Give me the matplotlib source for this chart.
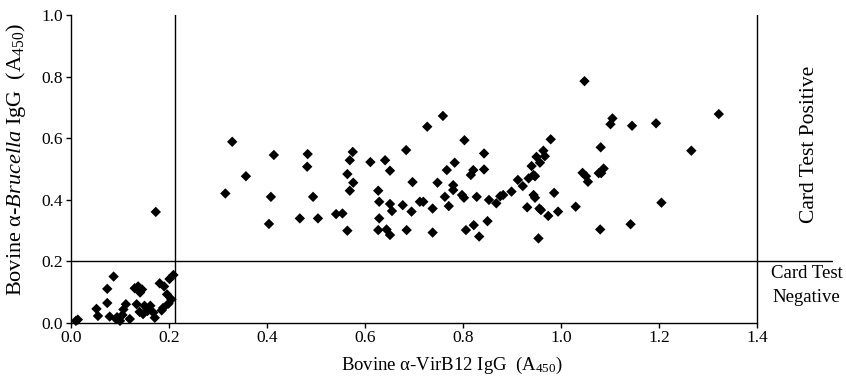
import numpy as numpy
import matplotlib
matplotlib.use('Agg')
import matplotlib.pyplot as plt

# negative group (left lower corner)
neg_x = [0.014, 0.010, 0.087, 0.074, 0.074, 0.052, 0.055, 0.079, 0.092, 0.100,
         0.105, 0.112, 0.107, 0.130, 0.137, 0.145, 0.141, 0.134, 0.140, 0.150,
         0.156, 0.162, 0.147, 0.168, 0.171, 0.181, 0.190, 0.196, 0.201, 0.209,
         0.205, 0.199, 0.188, 0.185, 0.120, 0.094, 0.173]
neg_y = [0.010, 0.006, 0.150, 0.110, 0.064, 0.045, 0.022, 0.020, 0.012, 0.006,
         0.025, 0.060, 0.043, 0.112, 0.118, 0.108, 0.098, 0.060, 0.035, 0.055,
         0.038, 0.055, 0.028, 0.033, 0.016, 0.128, 0.118, 0.092, 0.142, 0.155,
         0.076, 0.062, 0.048, 0.040, 0.012, 0.018, 0.360]

# positive group
pos_x = [0.329, 0.414, 0.483, 0.482, 0.575, 0.569, 0.684, 0.611, 0.641, 0.651,
         0.357, 0.564, 0.576, 0.569, 0.697, 0.627, 0.315, 0.408, 0.494, 0.629,
         0.651, 0.655, 0.677, 0.695, 0.467, 0.504, 0.541, 0.554, 0.629, 0.404,
         0.564, 0.627, 0.644, 0.651, 0.685, 0.712,
         1.048, 0.759, 0.727, 0.803, 0.979, 0.843, 0.783, 0.767, 0.821, 0.816,
         0.843, 0.964, 0.950, 0.967, 0.940, 0.957, 0.944, 0.934, 0.947, 1.044,
         1.055, 1.051, 0.748, 0.780, 0.780, 0.763, 0.798, 0.802, 0.828, 0.912,
         0.922, 0.899, 0.882, 0.876, 0.853, 0.868, 0.944, 0.947, 0.986, 0.719,
         0.738, 0.771, 0.931, 0.956, 0.959, 0.994, 0.974, 1.030, 0.738, 0.806,
         0.822, 0.833, 0.850, 0.954,
         1.322, 1.105, 1.101, 1.145, 1.194, 1.081, 1.266, 1.087, 1.082, 1.205,
         1.080, 1.142, 1.077]
pos_y = [0.588, 0.545, 0.548, 0.507, 0.555, 0.528, 0.561, 0.522, 0.528, 0.494,
         0.476, 0.483, 0.455, 0.429, 0.457, 0.429, 0.420, 0.409, 0.409, 0.393,
         0.386, 0.363, 0.382, 0.361, 0.339, 0.339, 0.353, 0.355, 0.339, 0.321,
         0.299, 0.301, 0.303, 0.285, 0.301, 0.393,
         0.785, 0.672, 0.637, 0.593, 0.596, 0.550, 0.520, 0.496, 0.496, 0.480,
         0.498, 0.559, 0.539, 0.541, 0.509, 0.520, 0.480, 0.469, 0.476, 0.487,
         0.458, 0.476, 0.455, 0.447, 0.431, 0.409, 0.415, 0.406, 0.409, 0.464,
         0.444, 0.426, 0.415, 0.411, 0.399, 0.388, 0.415, 0.406, 0.422, 0.393,
         0.371, 0.379, 0.375, 0.371, 0.366, 0.361, 0.347, 0.377, 0.293, 0.301,
         0.317, 0.280, 0.330, 0.274,
         0.678, 0.664, 0.645, 0.640, 0.648, 0.570, 0.559, 0.501, 0.486, 0.390,
         0.303, 0.320, 0.486]

virb12_cutoff = 0.212
card_cutoff = 0.2
x_ticks = [0.0, 0.2, 0.4, 0.6, 0.8, 1.0, 1.2, 1.4]
y_ticks = [0.0, 0.2, 0.4, 0.6, 0.8, 1.0]

plt.rcParams['font.family'] = ['Liberation Serif', 'DejaVu Serif']
plt.rcParams['mathtext.fontset'] = 'custom'
plt.rcParams['mathtext.rm'] = 'Liberation Serif'
plt.rcParams['mathtext.it'] = 'Liberation Serif:italic'

fig = plt.figure(figsize=(8.46, 3.81), dpi=100)
ax = fig.add_axes([71 / 846, 58.3 / 381, 762 / 846, 307.7 / 381])

ax.scatter(neg_x + pos_x, neg_y + pos_y, marker='D', s=28, c='black',
           edgecolors='none', clip_on=False, zorder=3)

ax.axhline(card_cutoff, color='black', lw=1.0)
ax.axvline(virb12_cutoff, color='black', lw=1.0)
ax.axvline(1.4, color='black', lw=1.0)

ax.set_xlim(0, 762 / 490)
ax.set_ylim(0, 1.0)
ax.set_xticks(x_ticks)
ax.set_yticks(y_ticks)
ax.set_xticklabels(['%.1f' % t for t in x_ticks])
ax.set_yticklabels(['%.1f' % t for t in y_ticks])
ax.spines['top'].set_visible(False)
ax.spines['right'].set_visible(False)
ax.spines['bottom'].set_bounds(0, 1.4)
for s in ['left', 'bottom']:
    ax.spines[s].set_linewidth(1.0)
ax.tick_params(direction='out', length=3.5, width=1.0, labelsize=12.5, pad=2)

ax.set_xlabel('Bovine \u03b1-VirB12 IgG  (A$_{450}$)', fontsize=13.5, labelpad=6)
ax.set_ylabel('Bovine \u03b1-$\\mathit{Brucella}$ IgG  (A$_{450}$)', fontsize=16)
ax.yaxis.set_label_coords(-0.056, 0.53)

ax.text(1.507, 0.581, 'Card Test Positive', rotation=90, fontsize=15.5,
        ha='center', va='center')
ax.text(1.501, 0.12, 'Card Test\nNegative', fontsize=13.5, ha='center',
        va='center', linespacing=1.55)

plt.savefig('out.png', dpi=100)
